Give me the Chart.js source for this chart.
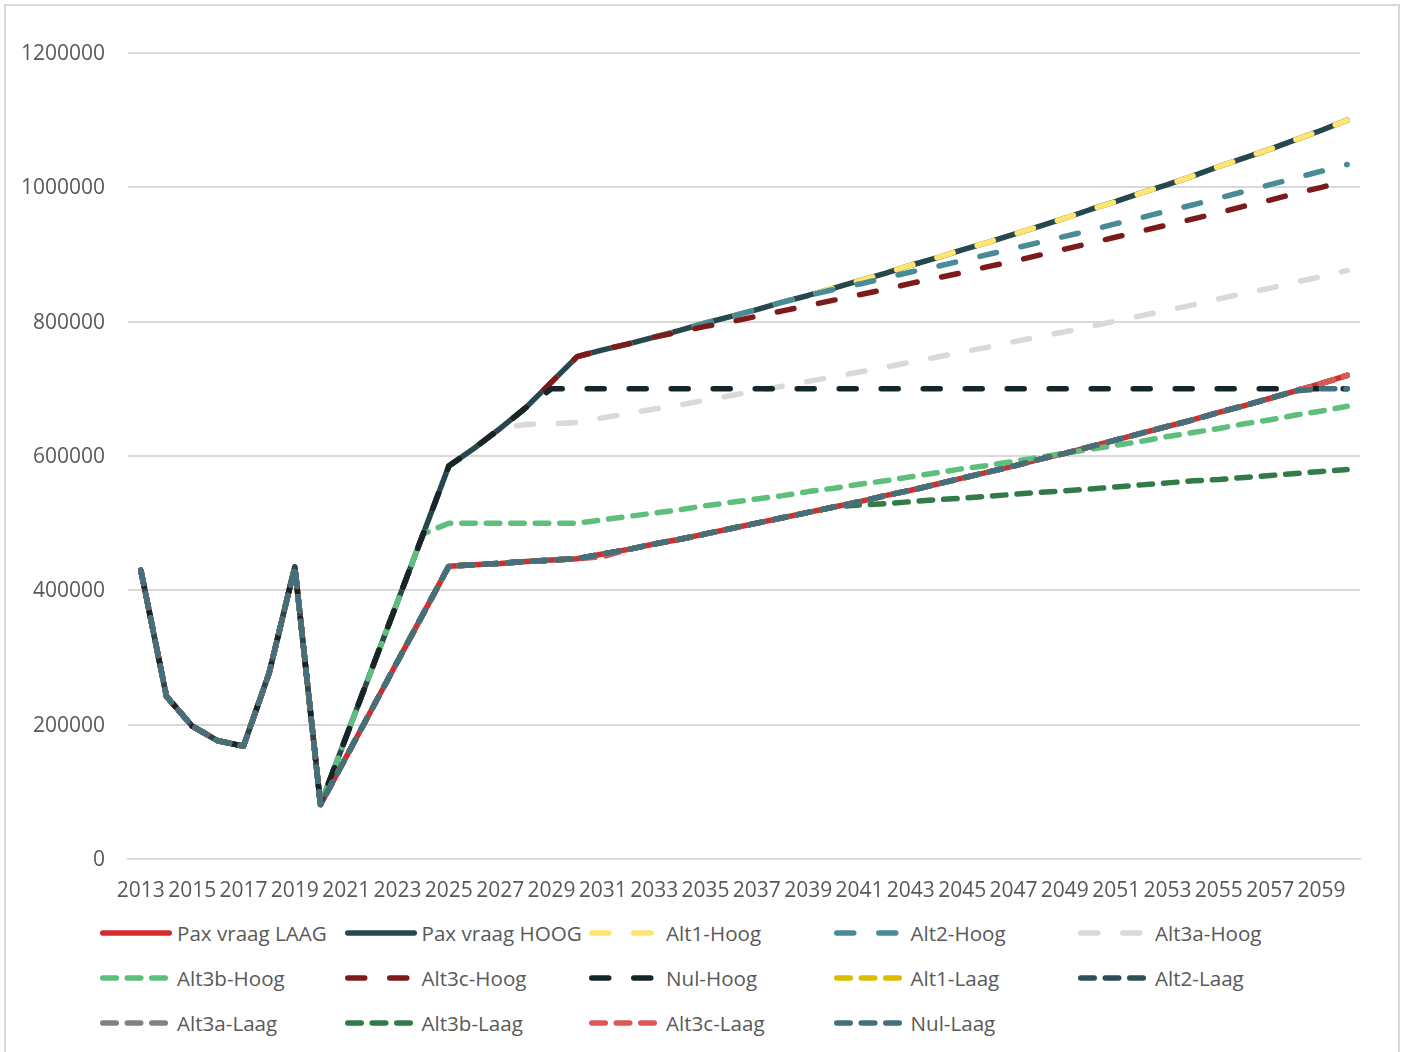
<!DOCTYPE html>
<html>
<head>
<meta charset="utf-8">
<title>Pax vraag scenario's</title>
<script src="https://cdn.jsdelivr.net/npm/chart.js@4.4.1/dist/chart.umd.min.js"></script>
<style>
  body { margin: 0; background: #fff; font-family: 'Open Sans', sans-serif; }
  #frame { position: absolute; left: 4px; top: 4px; width: 1396px; height: 1100px; border: 2px solid #d9d9d9; box-sizing: border-box; }
  #paxChart { position: absolute; left: 0; top: 0; }
  .legend-item { position: absolute; height: 30px; display: flex; align-items: center; white-space: nowrap; color: #595959; font-size: 20.6px; }
  .legend-item svg { margin-right: 5px; flex: none; }
</style>
</head>
<body>
<div id="frame"></div>
<canvas id="paxChart" width="1402" height="915"></canvas>
<div id="legend"></div>
<script>
// jaren op de x-as
const years = [2013, 2014, 2015, 2016, 2017, 2018, 2019, 2020, 2021, 2022, 2023, 2024,
  2025, 2026, 2027, 2028, 2029, 2030, 2031, 2032, 2033, 2034, 2035, 2036,
  2037, 2038, 2039, 2040, 2041, 2042, 2043, 2044, 2045, 2046, 2047, 2048,
  2049, 2050, 2051, 2052, 2053, 2054, 2055, 2056, 2057, 2058, 2059, 2060];

const yTicks = [0, 200000, 400000, 600000, 800000, 1000000, 1200000];

// passagiersvraag, laag en hoog scenario (2013 t/m 2060)
const paxLaag = [430000, 242000, 198000, 176000, 168000, 277000, 435000, 81000,
  152000, 223000, 294000, 365000, 436000,
  438000, 440000, 443000, 445000, 447000,
  454000, 461000, 469000, 476000, 484000, 492000, 500000, 508000, 516000, 524000,
  532000, 541000, 549000, 558000, 567000, 576000, 585000, 595000, 604000, 614000,
  624000, 634000, 644000, 654000, 665000, 675000, 686000, 697000, 708000, 720000];

const paxHoog = [430000, 242000, 198000, 176000, 168000, 277000, 435000, 81000,
  182000, 283000, 383000, 484000, 585000,
  612000, 641000, 672000, 710000, 748000,
  758000, 767000, 777000, 787000, 798000, 808000, 818000, 829000, 839000, 850000,
  861000, 872000, 884000, 895000, 907000, 918000, 930000, 942000, 954000, 967000,
  979000, 992000, 1004000, 1017000, 1031000, 1044000, 1057000, 1071000, 1085000, 1100000];

// afwijkende staarten per alternatief (lopen door tot 2060)
const alt2HoogTail = [848000, 856000, 865000, 874000, 882000, 891000, 900000, 909000, 918000, 927000,
  936000, 946000, 955000, 965000, 974000, 984000, 994000, 1004000, 1014000, 1024000, 1034000]; // vanaf 2040
const alt3aHoogTail = [647000, 648000, 650000,
  657000, 663000, 670000, 676000, 683000, 690000, 697000, 704000, 711000, 718000,
  725000, 732000, 740000, 747000, 755000, 762000, 770000, 778000, 785000, 793000,
  801000, 809000, 817000, 825000, 834000, 842000, 850000, 859000, 867000, 876000]; // vanaf 2028
const alt3bHoogTail = [500000, 500000, 500000, 500000, 500000, 500000,
  505000, 510000, 515000, 520000, 526000, 531000, 536000, 541000, 547000, 552000,
  558000, 563000, 569000, 575000, 581000, 586000, 592000, 598000, 604000, 610000,
  616000, 622000, 629000, 635000, 641000, 648000, 654000, 661000, 667000, 674000]; // vanaf 2025
const alt3cHoogTail = [785000, 793000, 800000, 808000, 816000, 824000, 832000,
  840000, 848000, 857000, 865000, 873000, 882000, 890000, 899000, 908000, 917000,
  926000, 935000, 944000, 953000, 962000, 972000, 981000, 991000, 1000000, 1010000]; // vanaf 2034
const nulHoogTail = [700000, 700000,
  700000, 700000, 700000, 700000, 700000, 700000, 700000, 700000, 700000, 700000,
  700000, 700000, 700000, 700000, 700000, 700000, 700000, 700000, 700000, 700000,
  700000, 700000, 700000, 700000, 700000, 700000, 700000, 700000, 700000, 700000]; // vanaf 2029
const alt3bLaagTail = [527000, 529000, 532000, 535000, 537000, 540000, 543000, 546000, 548000, 551000,
  554000, 557000, 560000, 563000, 565000, 568000, 571000, 574000, 577000, 580000]; // vanaf 2041
const alt3cLaag2031 = 450000;
const nulLaagTail = [700000, 700000]; // 2059, 2060

// basisreeks overnemen tot de staart begint
function branch(base, tail) {
    return base.slice(0, base.length - tail.length).concat(tail);
}

const alt3cLaag = paxLaag.slice();
alt3cLaag[years.indexOf(2031)] = alt3cLaag2031;

const seriesNames = ['Pax vraag LAAG', 'Pax vraag HOOG', 'Alt1-Hoog', 'Alt2-Hoog', 'Alt3a-Hoog',
  'Alt3b-Hoog', 'Alt3c-Hoog', 'Nul-Hoog', 'Alt1-Laag', 'Alt2-Laag',
  'Alt3a-Laag', 'Alt3b-Laag', 'Alt3c-Laag', 'Nul-Laag'];

const seriesData = [
    paxLaag,
    paxHoog,
    paxHoog,
    branch(paxHoog, alt2HoogTail),
    branch(paxHoog, alt3aHoogTail),
    branch(paxHoog, alt3bHoogTail),
    branch(paxHoog, alt3cHoogTail),
    branch(paxHoog, nulHoogTail),
    paxLaag,
    paxLaag,
    paxLaag,
    branch(paxLaag, alt3bLaagTail),
    alt3cLaag,
    branch(paxLaag, nulLaagTail)
];

const seriesColors = ['#d42c2c', '#27474f', '#ffe46e', '#4a8b98', '#d9d9d9',
  '#5ebf7d', '#7d1a1a', '#15262b', '#d9bd00', '#2d4f57',
  '#808080', '#327a48', '#de5656', '#43707b'];

const seriesStyles = ['solid', 'solid', 'dash', 'dash', 'dash',
  'sysDash', 'dash', 'dash', 'sysDash', 'sysDash',
  'sysDash', 'sysDash', 'sysDash', 'sysDash'];

const dashPatterns = {
    solid: [],
    dash: [17, 25],
    sysDash: [13.5, 11]
};

const lineWidth = 5.5;
const textColor = '#595959';
const gridColor = '#d9d9d9';
const tickFont = { family: "'Open Sans', sans-serif", size: 21 };

const datasets = seriesNames.map((name, i) => ({
    label: name,
    data: seriesData[i],
    borderColor: seriesColors[i],
    backgroundColor: seriesColors[i],
    borderWidth: lineWidth,
    borderDash: dashPatterns[seriesStyles[i]],
    borderCapStyle: 'round',
    borderJoinStyle: 'round',
    pointRadius: 0,
    tension: 0,
    fill: false,
    // latere reeksen bovenop tekenen
    order: seriesNames.length - 1 - i
}));

const paxChart = new Chart(document.getElementById('paxChart'), {
    type: 'line',
    data: {
        labels: years,
        datasets: datasets
    },
    options: {
        responsive: false,
        animation: false,
        events: [],
        layout: {
            padding: { top: 53, right: 42, bottom: 0, left: 0 }
        },
        plugins: {
            legend: { display: false },
            tooltip: { enabled: false }
        },
        scales: {
            x: {
                offset: true,
                grid: { display: false, drawTicks: false },
                border: { color: gridColor, width: 2 },
                ticks: {
                    autoSkip: false,
                    maxRotation: 0,
                    padding: 19,
                    color: textColor,
                    font: tickFont,
                    callback: (value, index) => index % 2 === 0 ? String(years[index]) : ''
                },
                afterFit: scale => { scale.height = 56; }
            },
            y: {
                min: yTicks[0],
                max: yTicks[yTicks.length - 1],
                afterBuildTicks: scale => { scale.ticks = yTicks.map(v => ({ value: v })); },
                grid: { color: gridColor, lineWidth: 2, drawTicks: false },
                border: { display: false },
                ticks: {
                    padding: 23,
                    labelOffset: 1,
                    color: textColor,
                    font: tickFont,
                    callback: value => String(value)
                },
                afterFit: scale => { scale.width = 128; }
            }
        }
    }
});

// legenda in 5 kolommen onder de grafiek
const legend = document.getElementById('legend');
paxChart.data.datasets.forEach((ds, i) => {
    const col = i % 5;
    const row = Math.floor(i / 5);
    const item = document.createElement('div');
    item.className = 'legend-item';
    item.style.left = (100 + col * 244.5) + 'px';
    item.style.top = (933 + row * 45 - 15) + 'px';

    const svgNS = 'http://www.w3.org/2000/svg';
    const svg = document.createElementNS(svgNS, 'svg');
    svg.setAttribute('width', '72');
    svg.setAttribute('height', '10');
    const line = document.createElementNS(svgNS, 'line');
    line.setAttribute('x1', '2.75');
    line.setAttribute('x2', '69.25');
    line.setAttribute('y1', '5');
    line.setAttribute('y2', '5');
    line.setAttribute('stroke', ds.borderColor);
    line.setAttribute('stroke-width', String(lineWidth));
    line.setAttribute('stroke-linecap', 'round');
    if (ds.borderDash.length) {
        line.setAttribute('stroke-dasharray', ds.borderDash.join(' '));
    }
    svg.appendChild(line);
    item.appendChild(svg);

    const text = document.createElement('span');
    text.textContent = ds.label;
    item.appendChild(text);
    legend.appendChild(item);
});
</script>
</body>
</html>
